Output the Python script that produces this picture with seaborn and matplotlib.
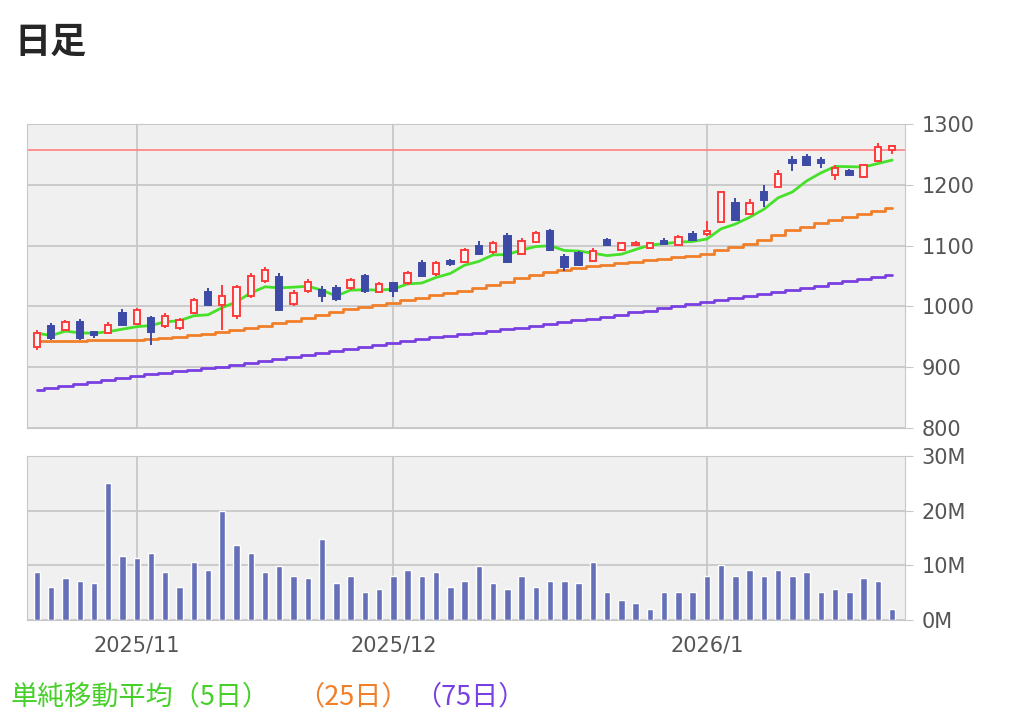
import numpy as np
import pandas as pd
import matplotlib
matplotlib.use("Agg")
import matplotlib.pyplot as plt
import seaborn as sns

opens  = [933,968,961,974,958,956,989,971,981,968,964,989,1024,1002,984,1017,1042,1048,1004,1025,
          1027,1030,1030,1050,1024,1038,1038,1071,1053,1075,1073,1099,1089,1116,1086,1106,1124,1081,1088,1075,
          1109,1093,1101,1096,1108,1101,1119,1119,1139,1170,1152,1188,1196,1241,1246,1241,1216,1223,1213,1239,1257]
closes = [956,948,974,948,953,969,969,994,958,984,977,1010,1002,1017,1032,1050,1060,994,1022,1040,
          1017,1012,1043,1025,1037,1025,1055,1050,1071,1070,1093,1086,1104,1073,1108,1121,1093,1065,1068,1091,
          1101,1104,1104,1104,1103,1114,1109,1124,1188,1142,1170,1175,1218,1236,1233,1236,1228,1216,1233,1262,1264]
highs  = [961,973,977,979,960,974,995,998,985,989,981,1013,1030,1035,1035,1055,1064,1055,1027,1045,
          1033,1035,1046,1053,1040,1040,1058,1076,1074,1078,1096,1107,1107,1120,1112,1124,1127,1086,1091,1096,
          1112,1106,1107,1106,1112,1117,1124,1140,1190,1178,1176,1199,1224,1247,1251,1245,1232,1226,1235,1268,1266]
lows   = [928,945,959,945,948,954,967,969,936,964,961,987,1000,961,979,1014,1039,992,1001,1022,
          1007,1009,1027,1022,1022,1015,1035,1048,1050,1066,1071,1084,1086,1071,1084,1104,1091,1058,1066,1073,
          1099,1091,1099,1094,1101,1099,1107,1115,1137,1140,1150,1163,1194,1222,1231,1227,1208,1214,1211,1237,1250]
volume_m = [8.7,6.1,7.7,7.2,6.7,25.1,11.7,11.3,12.3,8.7,6.1,10.7,9.2,19.9,13.8,12.3,8.7,9.8,8.1,7.7,
            14.8,6.7,8.1,5.2,5.6,8.1,9.2,8.1,8.7,6.1,7.2,9.8,6.7,5.6,8.1,6.1,7.2,7.2,6.7,10.7,
            5.2,3.6,3.1,2.1,5.2,5.2,5.2,8.1,10.1,8.1,9.2,8.1,9.2,8.1,8.7,5.2,5.6,5.2,7.7,7.2,2.1]
ma25 = [943,943,943,943,944,944,945,945,946,948,950,953,955,958,962,965,968,972,976,981,
        986,991,995,999,1003,1006,1010,1014,1018,1022,1026,1030,1035,1040,1046,1052,1057,1060,1063,1066,
        1068,1071,1073,1076,1078,1081,1083,1086,1092,1098,1103,1110,1117,1125,1131,1137,1142,1147,1152,1157,1162]
ma75 = [862,865,869,872,875,879,882,885,888,890,893,896,899,901,904,907,910,914,917,920,
        924,927,930,934,937,940,943,946,949,951,954,957,960,963,965,968,971,974,977,979,
        982,986,990,993,997,1001,1004,1008,1011,1014,1017,1021,1024,1027,1031,1034,1038,1041,1045,1048,1052]
resistance = 1257
month_idx = [7, 25, 47]
month_labels = ["2025/11", "2025/12", "2026/1"]
week_idx = [2, 11, 16, 21, 30, 35, 40, 45, 52, 56]
price_ticks = [800, 900, 1000, 1100, 1200, 1300]
vol_ticks = [0, 10, 20, 30]
vol_labels = ["0M", "10M", "20M", "30M"]

sns.set_style("white")
plt.rcParams['font.family'] = ['Noto Sans CJK JP', 'DejaVu Sans']

n = len(closes)
idx = np.arange(n)
df = pd.DataFrame({"i": idx, "o": opens, "c": closes, "h": highs, "l": lows, "v": volume_m,
                   "ma25": ma25, "ma75": ma75})
df["ma5"] = df["c"].rolling(5, min_periods=1).mean()

RED, BLUE = "#ff3b3b", "#3d4aa6"
fig = plt.figure(figsize=(10.23, 7.26), dpi=100)
W, H = 1023, 726
ax = fig.add_axes([27/W, 1-428/H, (905-27)/W, (428-124)/H])
axv = fig.add_axes([27/W, 1-620/H, (905-27)/W, (620-456)/H])

for a in (ax, axv):
    a.set_facecolor("#f0f0f0")
    for s in a.spines.values():
        s.set_color("#c8c8c8")
    a.set_xlim(-0.7, 60.9)
    for m in month_idx:
        a.axvline(m, color="#c8c8c8", lw=1.3, zorder=0)

for p in price_ticks:
    ax.axhline(p, color="#c8c8c8", lw=1.3, zorder=0)
for v in vol_ticks:
    axv.axhline(v, color="#c8c8c8", lw=1.3, zorder=0)

ax.set_ylim(800, 1300)
ax.axhline(resistance, color="#ff8080", lw=1.2, zorder=1)
sns.lineplot(data=df, x="i", y="ma75", color="#7a3fe0", lw=2, ax=ax, drawstyle="steps-mid")
sns.lineplot(data=df, x="i", y="ma25", color="#f07f2a", lw=2, ax=ax, drawstyle="steps-mid")
sns.lineplot(data=df, x="i", y="ma5", color="#47e02a", lw=2, ax=ax)

for _, r in df.iterrows():
    up = r.c >= r.o
    col = RED if up else BLUE
    ax.vlines(r.i, r.l, r.h, color=col, lw=1.4, zorder=3)
    lo, hi = min(r.o, r.c), max(r.o, r.c)
    hgt = max(hi - lo, 3)
    ax.bar(r.i, hgt, bottom=lo, width=0.45, facecolor="#fff4f4" if up else BLUE,
           edgecolor=col, lw=1.4, zorder=4)

sns.barplot(data=df, x="i", y="v", native_scale=True, color="#6670b8", saturation=1,
            width=0.45, ax=axv, zorder=3)
axv.set_ylim(0, 30)
axv.set_xlim(-0.7, 60.9)

tf = dict(family="DejaVu Sans", size=15)
for a in (ax, axv):
    a.set_xlabel(""); a.set_ylabel("")
    a.yaxis.tick_right()
    a.tick_params(axis="y", length=6, color="#c8c8c8", labelcolor="#555555", pad=6)
ax.set_yticks(price_ticks)
ax.set_yticklabels([str(p) for p in price_ticks], fontdict=tf)
ax.set_xticks([])
axv.set_yticks(vol_ticks)
axv.set_yticklabels(vol_labels, fontdict=tf)
ticks = sorted(month_idx + week_idx)
axv.set_xticks(ticks)
axv.set_xticklabels([month_labels[month_idx.index(t)] if t in month_idx else "" for t in ticks], fontdict=tf)
axv.tick_params(axis="x", length=7, color="#c8c8c8", labelcolor="#555555", pad=4)

fig.text(14/W, 1-42/H, "日足", fontsize=26, fontweight="bold", va="center", ha="left")
fig.text(10/W, 1-697/H, "単純移動平均（5日）", fontsize=19.5, color="#47d02a", va="center", ha="left")
fig.text(297/W, 1-697/H, "（25日）", fontsize=19.5, color="#f07f2a", va="center", ha="left")
fig.text(414/W, 1-697/H, "（75日）", fontsize=19.5, color="#7a3fe0", va="center", ha="left")

fig.savefig("out.png", dpi=100, facecolor="white")
